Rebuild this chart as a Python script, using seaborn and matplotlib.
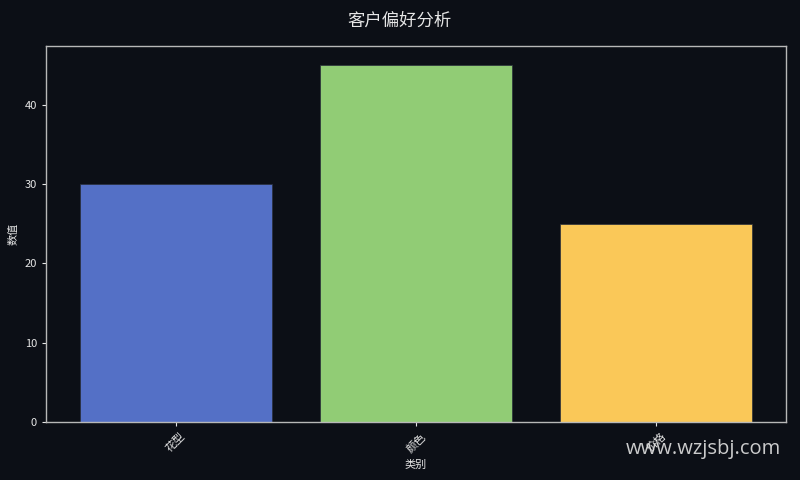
import matplotlib
matplotlib.use("Agg")
import matplotlib.pyplot as plt
import seaborn as sns
import pandas as pd

categories = ["花型", "颜色", "价格"]
values = [30, 45, 25]
colors = ["#5470c6", "#91cc75", "#fac858"]

sns.set_theme(style="dark")
plt.rcParams['font.family'] = ['Noto Sans CJK SC', 'DejaVu Sans']
bg = "#0c0f16"
fg = "#e6e6e6"

df = pd.DataFrame({"类别": categories, "数值": values})

fig, ax = plt.subplots(figsize=(8, 4.8), dpi=100)
fig.patch.set_facecolor(bg)
ax.set_facecolor(bg)

sns.barplot(data=df, x="类别", y="数值", hue="类别", palette=colors,
            legend=False, ax=ax, width=0.8, saturation=1,
            edgecolor="#2a2f3a", linewidth=0.5)
ax.set_xlim(-0.54, 2.54)
ax.set_ylim(0, 47.4)
ax.set_yticks([0, 10, 20, 30, 40])

for s in ax.spines.values():
    s.set_visible(True)
    s.set_color("#b8b8b8")
    s.set_linewidth(1.0)

ax.tick_params(axis="both", colors=fg, labelsize=8, length=3, width=0.8,
               bottom=True, left=True)
ax.tick_params(axis="x", labelrotation=45)
ax.set_xlabel("类别", color=fg, fontsize=8)
ax.set_ylabel("数值", color=fg, fontsize=8)
ax.grid(False)

fig.suptitle("客户偏好分析", color=fg, fontsize=12.5, y=0.975)
fig.subplots_adjust(left=0.0575, right=0.9825, top=0.904, bottom=0.121)

fig.text(0.976, 0.065, "www.wzjsbj.com", color="#e0e0e0", alpha=0.9,
         fontsize=14.5, ha="right", va="center", family="Open Sans")

fig.savefig("out.png", dpi=100, facecolor=bg)
